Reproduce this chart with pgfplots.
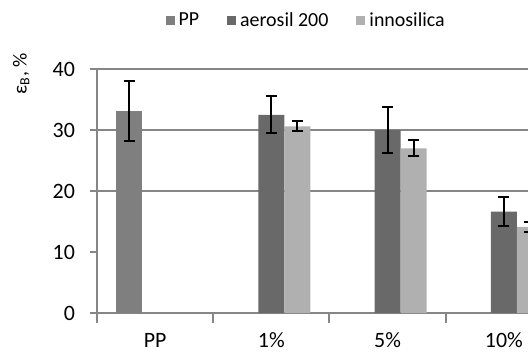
\documentclass[border=0pt]{standalone}
\usepackage{pgfplots}
\pgfplotsset{compat=1.18}
\usepackage{fontspec}
\setmainfont{Carlito}
\definecolor{gridgrey}{HTML}{868686}
\definecolor{ppgrey}{HTML}{7F7F7F}
\definecolor{aergrey}{HTML}{696969}
\definecolor{inngrey}{HTML}{B0B0B0}
\begin{document}
\begin{tikzpicture}
\path[use as bounding box] (0,0) rectangle (264bp,-177bp);
\clip (0,0) rectangle (264bp,-177bp);
\begin{axis}[
  at={(48.5bp,-156.5bp)}, anchor=south west,
  scale only axis, width=232.5bp, height=122bp,
  font=\fontsize{11}{13}\selectfont,
  /pgf/number format/assume math mode=true,
  ybar=0pt, bar width=13bp,
  xmin=-0.5, xmax=3.5, ymin=0, ymax=40,
  xtick={0,1,2,3}, xticklabels={PP,1\%,5\%,10\%},
  minor xtick={-0.5,0.5,1.5,2.5,3.5},
  ytick={0,10,20,30,40},
  axis lines=left,
  axis line style={-, draw=gridgrey, line width=1bp},
  xtick style={draw=none},
  minor x tick style={draw=gridgrey, line width=1bp},
  ytick style={draw=gridgrey, line width=1bp},
  tick align=outside,
  minor tick length=5bp, major tick length=3.5bp,
  extra y ticks={20,30,40}, extra y tick labels={},
  extra y tick style={ymajorgrids=true},
  major grid style={draw=gridgrey, line width=1bp},
  yticklabel style={xshift=-4bp},
  xticklabel style={yshift=-3bp},
  ylabel={ε\textsubscript{B}, \%},
  ylabel style={at={(axis description cs:-0.163,0.98)}, anchor=center, font=\fontsize{10}{12}\selectfont},
  legend columns=3,
  legend style={draw=none, fill=none, at={(axis description cs:0.452,1.197)}, anchor=center,
    /tikz/every even column/.append style={column sep=12bp},
    font=\fontsize{10}{12}\selectfont},
  legend image code/.code={\fill[#1] (0bp,-2.25bp) rectangle (4.5bp,2.25bp);},
  error bars/y dir=both, error bars/y explicit,
  error bars/error bar style={line width=1bp, black},
  error bars/error mark options={rotate=90, mark size=2.75bp, line width=1bp, black},
]
\addplot[fill=ppgrey, draw=none] coordinates {(0,33.1) +- (0,4.9)};
\addplot[fill=aergrey, draw=none] coordinates {(1,32.5) +- (0,3.0) (2,30.0) +- (0,3.7) (3,16.6) +- (0,2.4)};
\addplot[fill=inngrey, draw=none] coordinates {(1,30.6) +- (0,0.8) (2,27.0) +- (0,1.3) (3,14.1) +- (0,0.9)};
\legend{PP, aerosil 200, innosilica}
\end{axis}
\end{tikzpicture}
\end{document}
